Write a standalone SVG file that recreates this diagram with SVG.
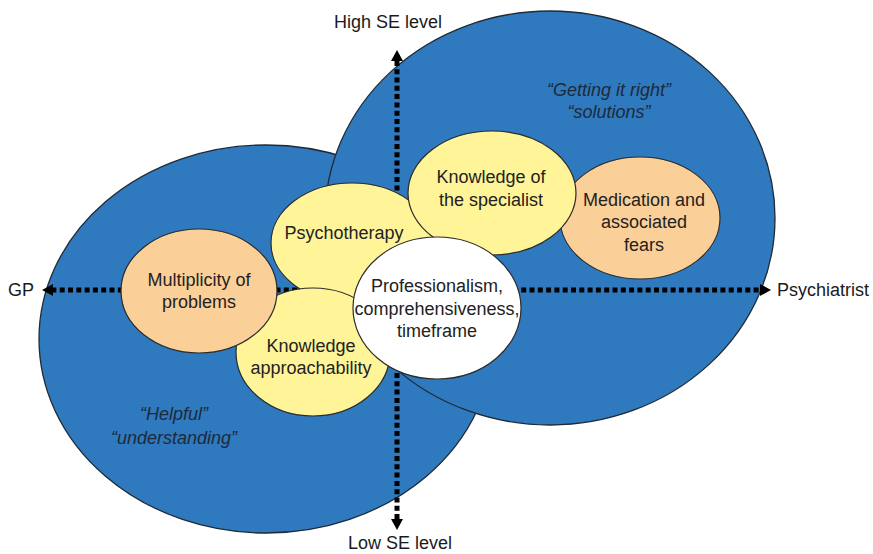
<svg xmlns="http://www.w3.org/2000/svg" width="873" height="554" viewBox="0 0 873 554">
  <defs>
    <marker id="arrow" markerUnits="userSpaceOnUse" markerWidth="14" markerHeight="14" viewBox="0 -7 12 14" refX="0" refY="0" orient="auto">
      <path d="M0,-6 L11,0 L0,6 Z" fill="#000"/>
    </marker>
    <style>
      .big { fill: #2F79BE; stroke: #1f2a36; stroke-width: 1.3; }
      .yellow { fill: #FFF497; stroke: #2b2b2b; stroke-width: 1.2; }
      .orange { fill: #FBCF98; stroke: #2b2b2b; stroke-width: 1.2; }
      .white { fill: #FFFFFF; stroke: #2b2b2b; stroke-width: 1.2; }
      .axis { fill: none; stroke: #000; stroke-width: 5; stroke-dasharray: 5 3.3; }
      text { font-family: "Liberation Sans", Arial, sans-serif; font-size: 18px; fill: #222; text-anchor: middle; }
      .lbl { fill: #1a1a1a; }
      .quote { font-style: italic; fill: #1e2a3a; }
    </style>
  </defs>

  <g id="gp-zone">
    <ellipse class="big" cx="266" cy="339" rx="227" ry="194"/>
  </g>
  <g id="psychiatrist-zone">
    <ellipse class="big" cx="550" cy="218" rx="225" ry="207"/>
  </g>

  <g id="connectors">
    <line class="axis" x1="405" y1="290" x2="53" y2="290" marker-end="url(#arrow)"/>
    <line class="axis" x1="405" y1="290" x2="760" y2="290" marker-end="url(#arrow)"/>
    <line class="axis" x1="397" y1="290" x2="397" y2="61" marker-end="url(#arrow)"/>
    <line class="axis" x1="397" y1="290" x2="397" y2="519" marker-end="url(#arrow)"/>
  </g>

  <g id="medication">
    <ellipse class="orange" cx="640" cy="218" rx="80" ry="61"/>
    <text x="644" y="206">Medication and</text>
    <text x="644" y="228">associated</text>
    <text x="644" y="251">fears</text>
  </g>
  <g id="psychotherapy">
    <ellipse class="yellow" cx="352" cy="243" rx="81" ry="60"/>
    <text x="344" y="239">Psychotherapy</text>
  </g>
  <g id="specialist">
    <ellipse class="yellow" cx="492" cy="193" rx="84" ry="62"/>
    <text x="491" y="183">Knowledge of</text>
    <text x="491" y="206">the specialist</text>
  </g>
  <g id="approachability">
    <ellipse class="yellow" cx="313" cy="352" rx="77" ry="64"/>
    <text x="311" y="352">Knowledge</text>
    <text x="311" y="374">approachability</text>
  </g>
  <g id="multiplicity">
    <ellipse class="orange" cx="199" cy="291" rx="78" ry="62"/>
    <text x="199" y="286">Multiplicity of</text>
    <text x="199" y="308">problems</text>
  </g>
  <g id="professionalism">
    <ellipse class="white" cx="437" cy="308" rx="84" ry="71"/>
    <text x="437" y="292">Professionalism,</text>
    <text x="437" y="315">comprehensiveness,</text>
    <text x="437" y="337">timeframe</text>
  </g>

  <g id="quotes">
    <text class="quote" x="609" y="96">“Getting it right”</text>
    <text class="quote" x="609" y="118">“solutions”</text>
    <text class="quote" x="174" y="420">“Helpful”</text>
    <text class="quote" x="174" y="444">“understanding”</text>
  </g>

  <g id="axis-labels">
    <text class="lbl" x="388" y="28">High SE level</text>
    <text class="lbl" x="400" y="549">Low SE level</text>
    <text class="lbl" x="21" y="296">GP</text>
    <text class="lbl" x="823" y="296">Psychiatrist</text>
  </g>
</svg>
